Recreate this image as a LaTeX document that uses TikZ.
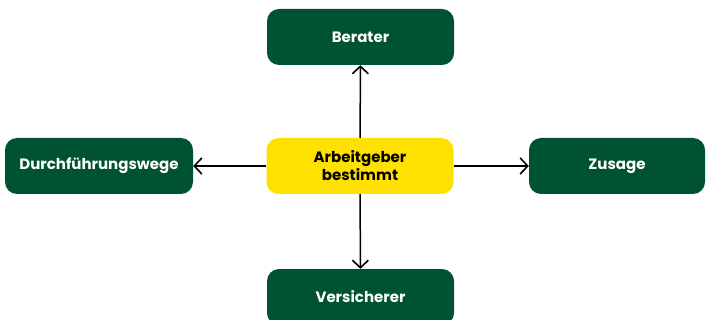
\documentclass[tikz,border=0pt]{standalone}
\usepackage{fontspec}
\setmainfont{Poppins}
\usetikzlibrary{arrows.meta}
\definecolor{dgreen}{HTML}{005331}
\definecolor{yel}{HTML}{FFE100}
\tikzset{
  box/.style={rectangle, rounded corners=12pt, minimum width=187pt, minimum height=56pt, inner sep=0pt, align=center, font=\fontsize{15}{18}\selectfont\bfseries},
  gbox/.style={box, fill=dgreen, text=white},
  ybox/.style={box, fill=yel, text=black},
  conn/.style={line width=1.5pt, -{Straight Barb[length=7.5pt,width=16pt,line width=1.6pt]}}
}
\begin{document}
\begin{tikzpicture}[x=1pt,y=-1pt]
\useasboundingbox (0,0) rectangle (708,320);
\node[ybox] (c) at (360,166) {Arbeitgeber\\bestimmt};
\node[gbox] (b) at (360.5,37) {\raisebox{-1.5pt}{Berater}};
\node[gbox, minimum width=188pt] (d) at (99,166) {\raisebox{-1.5pt}{Durchführungswege}};
\node[gbox, minimum width=176pt] (z) at (617,166) {\raisebox{-1.5pt}{Zusage}};
\node[gbox] (v) at (360.5,297) {\raisebox{-1.5pt}{Versicherer}};
\draw[conn] (c) -- (b);
\draw[conn] (c) -- (d);
\draw[conn] (c) -- (z);
\draw[conn] (c) -- (v);
\end{tikzpicture}
\end{document}
